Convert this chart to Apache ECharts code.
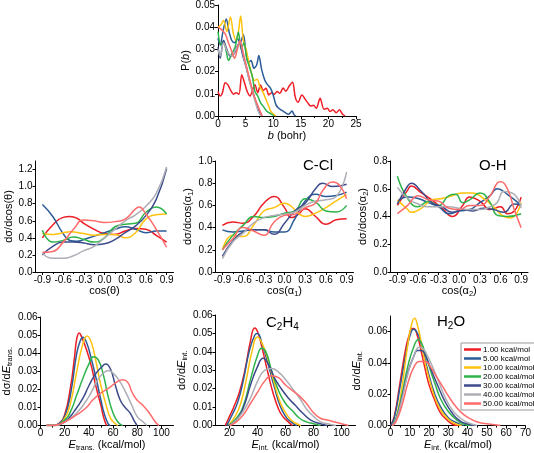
<!DOCTYPE html>
<html><head><meta charset="utf-8">
<script src="https://cdn.jsdelivr.net/npm/echarts@6/dist/echarts.min.js"></script>
<style>html,body{margin:0;padding:0;background:#fff}#c{width:534px;height:453px}</style>
</head><body><div id="c"></div><script>
const seriesNames = ['1.00 kcal/mol','5.00 kcal/mol','10.00 kcal/mol','20.00 kcal/mol','30.00 kcal/mol','40.00 kcal/mol','50.00 kcal/mol'];
const seriesColors = ['#ee1c24','#2b5c97','#ffc20e','#2db34a','#3d4b8b','#aeaeb6','#ff6b6b'];

// P(b) vs b (bohr)
const pb_1 = [[0,0.011],[0.4,0.009],[0.8,0.0105],[1.3,0.015],[1.8,0.014],[2.3,0.0115],[2.8,0.0098],[3.3,0.0105],[3.8,0.0098],[4.3,0.0186],[4.8,0.015],[5.3,0.011],[5.8,0.009],[6.3,0.012],[6.7,0.0141],[7.2,0.0105],[7.7,0.014],[8.2,0.0115],[8.7,0.0125],[9.2,0.0095],[9.7,0.0105],[10.2,0.0098],[10.7,0.011],[11.2,0.0102],[11.8,0.0126],[12.3,0.0112],[12.9,0.0135],[13.5,0.0152],[14.0,0.0085],[14.5,0.0062],[15.2,0.0095],[15.8,0.0075],[16.3,0.0058],[16.8,0.0045],[17.3,0.0048],[17.8,0.0035],[18.5,0.008],[19.2,0.003],[19.8,0.0035],[20.3,0.002],[20.8,0.0028],[21.4,0.0015],[22.0,0.0028],[22.5,0.001],[23,0]];
const pb_5 = [[0,0.035],[0.4,0.032],[0.9,0.038],[1.5,0.0437],[2.0,0.038],[2.5,0.034],[3.0,0.033],[3.5,0.035],[4.0,0.033],[4.6,0.0366],[5.0,0.030],[5.5,0.024],[6.0,0.025],[6.5,0.0215],[7.0,0.023],[7.4,0.0272],[7.9,0.021],[8.5,0.016],[9.0,0.014],[9.5,0.0126],[10.0,0.0095],[10.5,0.005],[11.0,0.0035],[11.6,0.0025],[12.2,0.0015],[12.8,0.0008],[13.4,0.0022],[13.8,0.0005],[14.1,0]];
const pb_10 = [[0,0.040],[0.5,0.041],[1.0,0.043],[1.6,0.038],[2.25,0.0446],[2.8,0.037],[3.3,0.034],[3.7,0.038],[4.1,0.045],[4.6,0.034],[5.1,0.030],[5.6,0.024],[6.1,0.019],[6.6,0.016],[7.1,0.0165],[7.6,0.013],[8.1,0.011],[8.6,0.008],[9.1,0.005],[9.6,0.002],[10.2,0.0005],[10.5,0]];
const pb_20 = [[0,0.038],[0.5,0.032],[1.0,0.034],[1.5,0.029],[1.9,0.025],[2.5,0.028],[3.1,0.031],[3.7,0.0378],[4.2,0.030],[4.7,0.033],[5.2,0.026],[5.7,0.022],[6.2,0.018],[6.7,0.011],[7.2,0.009],[7.7,0.006],[8.3,0.004],[8.9,0.002],[9.6,0.001],[10.2,0]];
const pb_30 = [[0,0.031],[0.4,0.026],[1.0,0.034],[1.6,0.030],[2.2,0.027],[2.9,0.028],[3.4,0.031],[3.9,0.033],[4.5,0.027],[5.1,0.022],[5.7,0.016],[6.3,0.011],[6.9,0.006],[7.4,0.002],[7.9,0]];
const pb_40 = [[0,0.030],[0.4,0.027],[1.0,0.033],[1.7,0.029],[2.5,0.027],[3.2,0.030],[4.0,0.033],[4.7,0.026],[5.4,0.019],[6.1,0.012],[6.8,0.006],[7.3,0.002],[7.8,0]];
const pb_50 = [[0,0.040],[0.6,0.039],[1.3,0.037],[1.9,0.033],[2.5,0.029],[3.0,0.026],[3.5,0.030],[4.0,0.034],[4.6,0.028],[5.2,0.022],[5.8,0.016],[6.4,0.010],[7.0,0.006],[7.5,0.003],[8.0,0]];

// dσ/dcos(θ)
const th_1 = [[-0.9,0.40],[-0.75,0.55],[-0.6,0.64],[-0.5,0.65],[-0.4,0.63],[-0.3,0.57],[-0.15,0.50],[0,0.45],[0.15,0.44],[0.3,0.48],[0.45,0.51],[0.6,0.50],[0.75,0.43],[0.9,0.35]];
const th_5 = [[-0.9,0.79],[-0.75,0.65],[-0.6,0.45],[-0.5,0.37],[-0.4,0.36],[-0.3,0.38],[-0.15,0.42],[0,0.46],[0.15,0.50],[0.3,0.53],[0.45,0.50],[0.6,0.46],[0.75,0.48],[0.9,0.48]];
const th_10 = [[-0.9,0.45],[-0.75,0.44],[-0.6,0.46],[-0.5,0.47],[-0.3,0.45],[-0.15,0.43],[0,0.44],[0.15,0.44],[0.3,0.40],[0.45,0.46],[0.6,0.62],[0.75,0.67],[0.9,0.68]];
const th_20 = [[-0.9,0.49],[-0.75,0.35],[-0.6,0.37],[-0.45,0.41],[-0.3,0.38],[-0.15,0.35],[0,0.40],[0.15,0.53],[0.3,0.56],[0.45,0.57],[0.6,0.70],[0.75,0.76],[0.9,0.68]];
const th_30 = [[-0.9,0.20],[-0.75,0.30],[-0.6,0.35],[-0.45,0.35],[-0.3,0.34],[-0.15,0.32],[0,0.33],[0.15,0.38],[0.3,0.46],[0.45,0.54],[0.6,0.66],[0.75,0.85],[0.9,1.21]];
const th_40 = [[-0.9,0.22],[-0.75,0.16],[-0.6,0.16],[-0.45,0.19],[-0.3,0.25],[-0.15,0.30],[0,0.40],[0.15,0.50],[0.3,0.60],[0.45,0.67],[0.6,0.77],[0.75,0.92],[0.9,1.23]];
const th_50 = [[-0.9,0.23],[-0.75,0.24],[-0.6,0.35],[-0.45,0.50],[-0.3,0.61],[-0.15,0.60],[0,0.58],[0.15,0.59],[0.3,0.62],[0.45,0.74],[0.5,0.76],[0.6,0.68],[0.75,0.50],[0.9,0.29]];

// dσ/dcos(α1)  C-Cl
const a1_1 = [[-0.9,0.42],[-0.75,0.45],[-0.6,0.44],[-0.45,0.50],[-0.3,0.62],[-0.15,0.68],[0,0.58],[0.1,0.49],[0.2,0.52],[0.3,0.57],[0.45,0.50],[0.6,0.43],[0.75,0.47],[0.9,0.48]];
const a1_5 = [[-0.9,0.38],[-0.75,0.36],[-0.6,0.37],[-0.45,0.38],[-0.3,0.38],[-0.15,0.36],[0,0.36],[0.15,0.48],[0.3,0.64],[0.45,0.70],[0.6,0.68],[0.75,0.69],[0.9,0.72]];
const a1_10 = [[-0.9,0.20],[-0.75,0.33],[-0.6,0.32],[-0.45,0.42],[-0.3,0.55],[-0.15,0.58],[0,0.62],[0.1,0.59],[0.2,0.53],[0.3,0.50],[0.45,0.53],[0.6,0.58],[0.75,0.64],[0.9,0.70]];
const a1_20 = [[-0.9,0.20],[-0.75,0.33],[-0.6,0.42],[-0.45,0.50],[-0.3,0.49],[-0.15,0.50],[0,0.53],[0.15,0.55],[0.3,0.66],[0.45,0.63],[0.6,0.55],[0.75,0.54],[0.9,0.60]];
const a1_30 = [[-0.9,0.14],[-0.75,0.28],[-0.6,0.36],[-0.45,0.38],[-0.3,0.38],[-0.15,0.34],[0,0.44],[0.15,0.55],[0.3,0.62],[0.45,0.75],[0.55,0.80],[0.7,0.77],[0.9,0.79]];
const a1_40 = [[-0.9,0.12],[-0.75,0.27],[-0.6,0.35],[-0.45,0.44],[-0.3,0.49],[-0.15,0.51],[0,0.52],[0.15,0.54],[0.3,0.60],[0.45,0.64],[0.6,0.65],[0.75,0.68],[0.9,0.90]];
const a1_50 = [[-0.9,0.20],[-0.75,0.30],[-0.6,0.40],[-0.45,0.37],[-0.3,0.33],[-0.15,0.45],[0,0.51],[0.15,0.52],[0.3,0.58],[0.45,0.62],[0.55,0.73],[0.7,0.81],[0.8,0.78],[0.9,0.66]];

// dσ/dcos(α2)  O-H
const a2_1 = [[-0.9,0.48],[-0.75,0.59],[-0.7,0.62],[-0.55,0.57],[-0.4,0.52],[-0.25,0.46],[-0.1,0.40],[0.05,0.48],[0.15,0.54],[0.3,0.51],[0.45,0.45],[0.6,0.47],[0.7,0.42],[0.8,0.44],[0.9,0.54]];
const a2_5 = [[-0.9,0.51],[-0.75,0.54],[-0.6,0.53],[-0.45,0.50],[-0.3,0.47],[-0.15,0.42],[0,0.44],[0.15,0.45],[0.3,0.50],[0.45,0.55],[0.55,0.60],[0.7,0.56],[0.9,0.48]];
const a2_10 = [[-0.9,0.52],[-0.75,0.45],[-0.7,0.43],[-0.55,0.46],[-0.4,0.52],[-0.25,0.53],[-0.1,0.55],[0.05,0.57],[0.2,0.57],[0.35,0.53],[0.5,0.47],[0.65,0.40],[0.75,0.39],[0.9,0.50]];
const a2_20 = [[-0.9,0.69],[-0.75,0.53],[-0.6,0.47],[-0.45,0.51],[-0.3,0.48],[-0.15,0.55],[-0.05,0.56],[0.05,0.50],[0.15,0.52],[0.3,0.57],[0.45,0.50],[0.55,0.41],[0.7,0.40],[0.9,0.42]];
const a2_30 = [[-0.9,0.49],[-0.75,0.62],[-0.7,0.64],[-0.55,0.58],[-0.4,0.50],[-0.25,0.47],[-0.1,0.43],[0.05,0.45],[0.2,0.44],[0.35,0.46],[0.5,0.45],[0.65,0.43],[0.8,0.49],[0.9,0.48]];
const a2_40 = [[-0.9,0.61],[-0.75,0.53],[-0.6,0.49],[-0.45,0.47],[-0.3,0.47],[-0.15,0.47],[0,0.46],[0.15,0.45],[0.3,0.45],[0.45,0.47],[0.55,0.50],[0.65,0.58],[0.8,0.56],[0.9,0.46]];
const a2_50 = [[-0.9,0.42],[-0.75,0.48],[-0.6,0.55],[-0.45,0.52],[-0.3,0.51],[-0.15,0.46],[0,0.45],[0.15,0.48],[0.3,0.48],[0.45,0.55],[0.55,0.64],[0.6,0.65],[0.7,0.60],[0.8,0.45],[0.9,0.32]];

// dσ/dE_trans.
const et_1 = [[5,0],[10,0],[15,0.001],[20,0.006],[25,0.022],[28,0.037],[30,0.048],[32,0.0512],[34,0.049],[38,0.042],[42,0.033],[45,0.024],[48,0.016],[50,0.011],[52,0.005],[54,0.001],[55,0]];
const et_5 = [[5,0],[10,0],[15,0.001],[20,0.005],[25,0.018],[30,0.040],[33,0.047],[35,0.0488],[38,0.046],[42,0.037],[46,0.026],[50,0.014],[53,0.006],[56,0.001],[58,0]];
const et_10 = [[5,0],[12,0],[20,0.004],[25,0.013],[30,0.030],[35,0.045],[38.5,0.0495],[42,0.046],[46,0.035],[50,0.022],[54,0.012],[58,0.004],[62,0.001],[64,0]];
const et_20 = [[5,0],[10,0],[20,0.003],[25,0.008],[30,0.017],[35,0.026],[40,0.034],[44,0.038],[48,0.036],[52,0.028],[56,0.016],[60,0.007],[64,0.002],[68,0]];
const et_30 = [[5,0],[10,0],[20,0.002],[28,0.008],[35,0.015],[40,0.022],[45,0.028],[50,0.032],[54,0.034],[58,0.031],[62,0.022],[66,0.014],[70,0.010],[74,0.007],[78,0.002],[80,0]];
const et_40 = [[5,0],[12,0],[20,0.002],[30,0.007],[40,0.016],[47,0.025],[52,0.029],[56,0.0305],[60,0.029],[65,0.025],[70,0.019],[75,0.012],[80,0.005],[85,0.002],[88,0]];
const et_50 = [[5,0],[10,0],[20,0.002],[30,0.006],[38,0.010],[43,0.014],[50,0.018],[57,0.021],[63,0.024],[68,0.0253],[72,0.024],[76,0.018],[80,0.014],[85,0.011],[90,0.007],[95,0.002],[98,0]];

// dσ/dE_int.  C2H4
const ec_1 = [[17,0],[20,0.005],[23,0.010],[27,0.018],[31,0.030],[35,0.046],[38,0.053],[40,0.051],[43,0.043],[47,0.030],[51,0.018],[55,0.009],[58,0.005],[62,0.002],[65,0]];
const ec_5 = [[18,0],[22,0.006],[26,0.013],[30,0.025],[34,0.040],[38,0.049],[40,0.050],[43,0.045],[47,0.035],[52,0.021],[56,0.011],[60,0.005],[64,0.002],[68,0]];
const ec_10 = [[19,0],[24,0.005],[28,0.012],[32,0.025],[36,0.040],[40,0.048],[43,0.045],[47,0.037],[52,0.023],[56,0.013],[60,0.007],[64,0.003],[68,0.001],[71,0]];
const ec_20 = [[19,0],[25,0.004],[30,0.011],[35,0.025],[40,0.038],[43,0.042],[46,0.040],[50,0.030],[55,0.019],[60,0.012],[65,0.008],[70,0.004],[75,0.002],[80,0.001],[85,0]];
const ec_30 = [[19,0],[25,0.003],[30,0.010],[35,0.022],[40,0.032],[44,0.0365],[48,0.033],[52,0.026],[57,0.020],[62,0.015],[67,0.011],[72,0.007],[78,0.003],[85,0.001],[90,0]];
const ec_40 = [[20,0],[25,0.003],[30,0.008],[35,0.015],[40,0.024],[45,0.030],[50,0.031],[55,0.029],[60,0.025],[65,0.020],[70,0.015],[75,0.009],[80,0.005],[85,0.002],[90,0.001],[96,0]];
const ec_50 = [[20,0],[25,0.002],[30,0.006],[35,0.012],[40,0.018],[45,0.024],[50,0.027],[55,0.026],[60,0.022],[65,0.019],[70,0.016],[75,0.012],[80,0.007],[85,0.004],[90,0.003],[95,0.002],[100,0.001],[105,0]];

// dσ/dE_int.  H2O
const ew_1 = [[0,0],[2,0.006],[5,0.028],[8,0.050],[10,0.059],[11,0.062],[12,0.062],[14,0.057],[16,0.047],[18,0.036],[20,0.026],[23,0.016],[26,0.008],[29,0.004],[32,0.001],[35,0]];
const ew_5 = [[0,0],[2,0.005],[5,0.025],[8,0.046],[10,0.057],[12,0.0615],[14,0.059],[16,0.052],[18,0.042],[20,0.032],[23,0.020],[26,0.012],[30,0.005],[34,0.002],[38,0]];
const ew_10 = [[1,0],[3,0.005],[6,0.025],[9,0.052],[11,0.065],[12.5,0.0685],[14,0.064],[16,0.053],[18,0.040],[20,0.030],[23,0.018],[26,0.010],[30,0.004],[34,0.001],[37,0]];
const ew_20 = [[1,0],[3,0.005],[6,0.020],[9,0.038],[12,0.050],[14.5,0.055],[16,0.053],[18,0.046],[20,0.038],[23,0.027],[26,0.017],[30,0.009],[34,0.004],[38,0.001],[42,0]];
const ew_30 = [[1,0],[3,0.004],[6,0.018],[9,0.034],[12,0.044],[14,0.048],[16,0.048],[18,0.045],[21,0.036],[24,0.027],[28,0.016],[32,0.008],[36,0.003],[40,0.001],[44,0]];
const ew_40 = [[1,0],[3,0.004],[6,0.017],[9,0.033],[12,0.044],[15,0.050],[17,0.049],[19,0.045],[22,0.037],[25,0.028],[28,0.019],[32,0.010],[36,0.005],[40,0.002],[45,0]];
const ew_50 = [[1,0],[3,0.003],[6,0.013],[9,0.027],[12,0.037],[15,0.041],[18,0.041],[21,0.037],[24,0.031],[27,0.025],[30,0.019],[34,0.012],[38,0.007],[42,0.004],[46,0.002],[51,0.001],[57,0]];

// tick labels (major) and minor tick positions
const bTicks = [0,5,10,15,20,25];
const bMinor = [2.5,7.5,12.5,17.5,22.5];
const pbTicks = [0,0.01,0.02,0.03,0.04,0.05];
const cosTicks = [-0.9,-0.6,-0.3,0,0.3,0.6,0.9];
const cosMinor = [-0.75,-0.45,-0.15,0.15,0.45,0.75];
const thTicks = [0,0.2,0.4,0.6,0.8,1.0,1.2];
const a1Ticks = [0,0.2,0.4,0.6,0.8,1.0];
const a2Ticks = [0,0.2,0.4,0.6,0.8];
const etTicks = [0,20,40,60,80,100];
const etMinor = [10,30,50,70,90];
const ecTicks = [20,40,60,80,100];
const ecMinor = [30,50,70,90];
const ewTicks = [0,10,20,30,40,50,60,70];
const ewMinor = [5,15,25,35,45,55,65];
const eyTicks6 = [0,0.01,0.02,0.03,0.04,0.05,0.06];
const ewyTicks = [0,0.02,0.04,0.06];

const FF = '"Liberation Sans", Arial, sans-serif';
const panelData = [
  [pb_1,pb_5,pb_10,pb_20,pb_30,pb_40,pb_50],
  [th_1,th_5,th_10,th_20,th_30,th_40,th_50],
  [a1_1,a1_5,a1_10,a1_20,a1_30,a1_40,a1_50],
  [a2_1,a2_5,a2_10,a2_20,a2_30,a2_40,a2_50],
  [et_1,et_5,et_10,et_20,et_30,et_40,et_50],
  [ec_1,ec_5,ec_10,ec_20,ec_30,ec_40,ec_50],
  [ew_1,ew_5,ew_10,ew_20,ew_30,ew_40,ew_50]
];
const grids = [
  {left:218, top:5, width:138, height:111},
  {left:35.5, top:161, width:138, height:111},
  {left:215.5, top:161, width:138, height:111},
  {left:390.5, top:161, width:137.5, height:111},
  {left:35.5, top:317, width:138, height:111},
  {left:215.5, top:315, width:140, height:111},
  {left:390.5, top:316, width:136, height:110}
];
const richBase = {
  n:{fontSize:11, fontFamily:FF, color:'#000'},
  i:{fontSize:11, fontFamily:FF, fontStyle:'italic', color:'#000'},
  s:{fontSize:7.5, fontFamily:FF, color:'#000', padding:[6,0,0,0]}
};
function xAx(i, min, max, ticks, dec, name, gap) {
  return {gridIndex:i, type:'value', min:min, max:max, position:'bottom',
    axisLine:{show:true, onZero:false, lineStyle:{color:'#000', width:1}},
    axisTick:{show:true, length:3, customValues:ticks, lineStyle:{color:'#000'}},
    axisLabel:{customValues:ticks, formatter:v=>v.toFixed(dec), fontSize:10, color:'#000', margin:3, fontFamily:FF},
    splitLine:{show:false},
    name:name, nameLocation:'middle', nameGap:gap, nameTextStyle:{rich:richBase, fontSize:11, fontFamily:FF, color:'#000'}};
}
function xMinor(i, min, max, ticks) {
  return {gridIndex:i, type:'value', min:min, max:max, position:'bottom', offset:0,
    axisLine:{show:false, onZero:false},
    axisTick:{show:true, length:2, customValues:ticks, lineStyle:{color:'#000'}},
    axisLabel:{show:false}, splitLine:{show:false}};
}
function yAx(i, min, max, ticks, dec, name, gap) {
  return {gridIndex:i, type:'value', min:min, max:max,
    axisLine:{show:true, onZero:false, lineStyle:{color:'#000', width:1}},
    axisTick:{show:true, length:3, customValues:ticks, lineStyle:{color:'#000'}},
    axisLabel:{customValues:ticks, formatter:v=>v.toFixed(dec), fontSize:10, color:'#000', margin:3, fontFamily:FF},
    splitLine:{show:false},
    name:name, nameLocation:'middle', nameGap:gap, nameTextStyle:{rich:richBase, fontSize:11, fontFamily:FF, color:'#000'}};
}
const xAxes = [
  xAx(0,0,25,bTicks,0,'{i|b}{n| (bohr)}',14),
  xAx(1,-1,1,cosTicks,1,'{n|cos(θ)}',12),
  xAx(2,-1,1,cosTicks,1,'{n|cos(α}{s|1}{n|)}',12),
  xAx(3,-1,1,cosTicks,1,'{n|cos(α}{s|2}{n|)}',12),
  xAx(4,0,110,etTicks,0,'{i|E}{s|trans.}{n| (kcal/mol)}',12),
  xAx(5,10,110,ecTicks,0,'{i|E}{s|int.}{n| (kcal/mol)}',12),
  xAx(6,0,70,ewTicks,0,'{i|E}{s|int.}{n| (kcal/mol)}',12),
  xMinor(0,0,25,bMinor),
  xMinor(1,-1,1,cosMinor),
  xMinor(2,-1,1,cosMinor),
  xMinor(3,-1,1,cosMinor),
  xMinor(4,0,110,etMinor),
  xMinor(5,10,110,ecMinor),
  xMinor(6,0,70,ewMinor)
];
const yAxes = [
  yAx(0,0,0.05,pbTicks,2,'{n|P(}{i|b}{n|)}',27),
  yAx(1,0,1.3,thTicks,1,'{n|dσ/dcos(θ)}',21),
  yAx(2,0,1.0,a1Ticks,1,'{n|dσ/dcos(α}{s|1}{n|)}',21),
  yAx(3,0,0.8,a2Ticks,1,'{n|dσ/dcos(α}{s|2}{n|)}',21),
  yAx(4,0,0.06,eyTicks6,2,'{n|dσ/d}{i|E}{s|trans.}',27),
  yAx(5,0,0.06,eyTicks6,2,'{n|dσ/d}{i|E}{s|int.}',27),
  yAx(6,0,0.07,ewyTicks,2,'{n|dσ/d}{i|E}{s|int.}',27)
];
const series = [];
panelData.forEach((pd, p) => {
  pd.forEach((d, s) => {
    series.push({type:'line', name:seriesNames[s], xAxisIndex:p, yAxisIndex:p, data:d,
      smooth: p === 0 ? 0.3 : 0.5, showSymbol:false, symbol:'none', clip:true,
      lineStyle:{width:1.5, color:seriesColors[s]}, itemStyle:{color:seriesColors[s]}});
  });
});
const titleRich = {
  a:{fontSize:15, fontFamily:FF, fontWeight:'normal', color:'#000'},
  b:{fontSize:10, fontFamily:FF, fontWeight:'normal', color:'#000', padding:[8,0,0,0]}
};
const option = {
  animation:false,
  backgroundColor:'#fff',
  title:[
    {text:'C-Cl', left:303, top:158, padding:0, textStyle:{fontSize:15, fontWeight:'normal', fontFamily:FF, color:'#000'}},
    {text:'O-H', left:479, top:158, padding:0, textStyle:{fontSize:15, fontWeight:'normal', fontFamily:FF, color:'#000'}},
    {text:'{a|C}{b|2}{a|H}{b|4}', left:266, top:314, padding:0, textStyle:{rich:titleRich, fontWeight:'normal'}},
    {text:'{a|H}{b|2}{a|O}', left:437, top:313, padding:0, textStyle:{rich:titleRich, fontWeight:'normal'}}
  ],
  legend:{
    data:seriesNames, orient:'vertical', left:461, top:343,
    icon:'rect', itemWidth:17, itemHeight:2.5, itemGap:0,
    padding:[2,3,2,3], borderColor:'#999', borderWidth:1,
    textStyle:{fontSize:8, fontFamily:FF, color:'#000', lineHeight:9, padding:[0,0,0,-3]}
  },
  grid:grids,
  xAxis:xAxes,
  yAxis:yAxes,
  series:series
};
const chart = echarts.init(document.getElementById('c'), null, {renderer:'canvas'});
chart.setOption(option);
</script></body></html>
